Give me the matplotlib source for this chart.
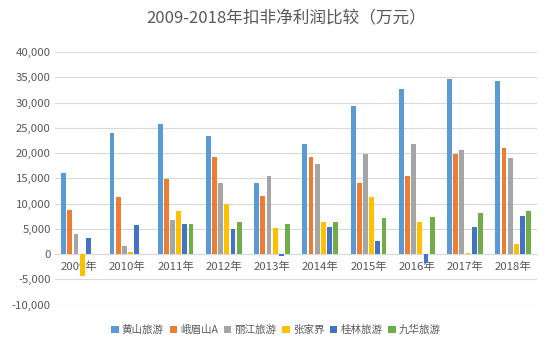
import numpy as np
import matplotlib.pyplot as plt
from matplotlib.ticker import FuncFormatter

plt.rcParams['font.family'] = ['Noto Sans CJK SC', 'DejaVu Sans']

years = ['2009年', '2010年', '2011年', '2012年', '2013年',
         '2014年', '2015年', '2016年', '2017年', '2018年']
huangshan = [16000, 24000, 25700, 23400, 14100, 21900, 29400, 32700, 34600, 34300]
emeishan = [8700, 11300, 14800, 19200, 11500, 19200, 14000, 15500, 19900, 21000]
lijiang = [4000, 1700, 6700, 14000, 15400, 17800, 19900, 21900, 20600, 19100]
zhangjiajie = [-4400, 500, 8600, 10000, 5100, 6300, 11300, 6300, 200, 2100]
guilin = [3200, 5700, 5900, 4900, -400, 5300, 2700, -1800, 5400, 7500]
jiuhua = [0, 0, 6000, 6300, 5900, 6400, 7200, 7400, 8200, 8500]

series = [
    ('黄山旅游', huangshan, '#5B9BD5'),
    ('峨眉山A', emeishan, '#ED7D31'),
    ('丽江旅游', lijiang, '#A5A5A5'),
    ('张家界', zhangjiajie, '#FFC000'),
    ('桂林旅游', guilin, '#4472C4'),
    ('九华旅游', jiuhua, '#70AD47'),
]

fig = plt.figure(figsize=(5.5, 3.5), dpi=100)
ax = fig.add_axes([0.1, 0.128, 0.877, 0.723])

x = np.arange(len(years))
step = 0.128
width = 0.1
for i, (name, vals, color) in enumerate(series):
    ax.bar(x + (i - 2.5) * step, vals, width, color=color, label=name, zorder=3)

ax.set_xlim(-0.5, len(years) - 0.5)
ax.set_ylim(-10100, 40000)
ax.set_yticks(np.arange(-10000, 40001, 5000))
ax.yaxis.set_major_formatter(FuncFormatter(lambda v, p: f'{int(v):,}'))
ax.grid(axis='y', color='#D9D9D9', linewidth=0.8, zorder=0)

for s in ['top', 'right', 'left']:
    ax.spines[s].set_visible(False)
ax.spines['bottom'].set_position(('data', 0))
ax.spines['bottom'].set_color('#D9D9D9')
ax.spines['bottom'].set_zorder(2)

ax.set_xticks(x)
ax.set_xticklabels(years)
ax.tick_params(axis='both', length=0, labelsize=8.2, colors='#595959', pad=5)
ax.tick_params(axis='y', pad=3)

fig.text(0.52, 0.945, '2009-2018年扣非净利润比较（万元）', ha='center', va='center',
         fontsize=12, color='#595959')

fig.legend(loc='center', bbox_to_anchor=(0.502, 0.057), ncol=6, frameon=False,
           fontsize=7.6, handlelength=0.7, handleheight=0.7, handletextpad=0.3,
           columnspacing=0.55, labelcolor='#595959')

fig.savefig('out.png', dpi=100)
